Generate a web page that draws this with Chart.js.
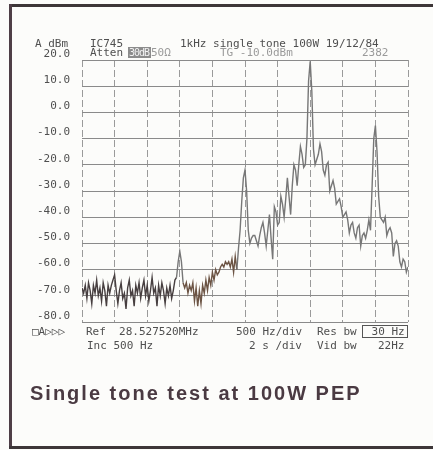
<!DOCTYPE html>
<html>
<head>
<meta charset="utf-8">
<script src="https://cdn.jsdelivr.net/npm/chart.js@4/dist/chart.umd.min.js"></script>
<style>
  body { margin: 0; background: #fcfcfa; }
  #page { position: relative; width: 433px; height: 450px; overflow: hidden; }
  #plot { position: absolute; left: 0; top: 0; }
  .edge { position: absolute; background: #3d3638; }
  .pm { position: absolute; font: 11px "DejaVu Sans Mono", monospace; line-height: 11px;
        color: #4f4f4f; white-space: pre; }
  .dim { color: #9a9a9a; }
  .inv { background: #8c8c8c; color: #f2f2f2; font-size: 10px; letter-spacing: -1px; padding: 0 2px 0 1px; }
  .box { border: 1px solid #555; padding: 0 2px; }
  #caption { position: absolute; left: 30px; top: 382px; font: bold 20px "Liberation Sans", Arial, sans-serif;
             letter-spacing: 2px; color: #4a3a42; white-space: pre; }
</style>
</head>
<body>
<div id="page">
  <canvas id="plot" width="433" height="450"></canvas>

  <div class="edge" style="left:9px;top:4px;width:424px;height:3px"></div>
  <div class="edge" style="left:9px;top:4px;width:3px;height:445px;background:#4e3e46"></div>
  <div class="edge" style="left:9px;top:446px;width:424px;height:3px"></div>

  <span class="pm" style="left:35px;top:38px">A dBm</span>
  <span class="pm" style="left:90px;top:38px">IC745</span>
  <span class="pm" style="left:180px;top:38px">1kHz single tone 100W 19/12/84</span>
  <span class="pm" style="left:90px;top:47px">Atten</span>
  <span class="pm inv" style="left:128px;top:47px">30dB</span>
  <span class="pm dim" style="left:151px;top:47px">50Ω</span>
  <span class="pm dim" style="left:220px;top:47px">TG -10.0dBm</span>
  <span class="pm dim" style="left:362px;top:47px">2382</span>

  <span class="pm" style="left:32px;top:326px">□A▷▷▷</span>
  <span class="pm" style="left:86px;top:326px">Ref  28.527520MHz</span>
  <span class="pm" style="left:87px;top:340px">Inc 500 Hz</span>
  <span class="pm" style="left:236px;top:326px">500 Hz/div</span>
  <span class="pm" style="left:249px;top:340px">2 s /div</span>
  <span class="pm" style="left:317px;top:326px">Res bw</span>
  <span class="pm box" style="left:362px;top:325px"> 30 Hz</span>
  <span class="pm" style="left:317px;top:340px">Vid bw</span>
  <span class="pm" style="left:378px;top:340px">22Hz</span>

  <div id="caption">Single tone test at 100W PEP</div>
</div>

<script>
// sweep settings: 500 Hz/div, 10 divisions
var startHz = 0;
var stepHz = 25;
var spanHz = 5000;
var refLevel = 20;
var bottomLevel = -80;

// trace samples in dBm, one every 25 Hz from the left edge
var levelDbm = [
  -67, -69, -66, -71, -65, -68, -73, -66, -69, -64, -70, -67, -72, -65, -68, -74, -66, -69, -66, -64,
  -62, -68, -73, -68, -65, -71, -69, -75, -67, -64, -70, -68, -74, -66, -69, -65, -71, -67, -64, -70,
  -66, -72, -68, -63, -69, -67, -74, -66, -70, -65, -68, -73, -67, -70, -66, -71, -68, -64, -63, -57,
  -53, -57, -65, -67, -65, -69, -66, -68, -65, -72, -67, -74, -68, -73, -66, -69, -64, -68, -63, -66,
  -61, -64, -60, -62, -61, -59, -58, -59, -57, -58, -57, -59, -56, -61, -55, -60, -52, -45, -34, -25,
  -22, -30, -45, -50, -48, -47, -47, -49, -51, -47, -44, -42, -46, -51, -45, -39, -48, -56, -36, -38,
  -43, -42, -32, -35, -40, -33, -25, -32, -39, -28, -20, -22, -28, -20, -13, -16, -21, -20, -10, 12,
  19.5, 8, -14, -20, -18, -16, -12, -15, -22, -24, -20, -19, -30, -28, -26, -29, -35, -34, -33, -36,
  -40, -39, -38, -41, -46, -43, -42, -46, -48, -44, -43, -51, -47, -46, -48, -45, -41, -45, -28, -10,
  -5, -15, -32, -40, -41, -42, -40, -47, -45, -44, -46, -55, -50, -49, -51, -57, -59, -56, -57, -61,
  -59
];

var points = levelDbm.map(function (v, i) {
  return { x: startHz + i * stepHz, y: v };
});

// pen colours along the sweep
function penColour(ctx) {
  var f = ctx.p0.parsed.x;
  if (f < 1450) return '#473f40';
  if (f >= 1550 && f < 2375) return '#6c5444';
  return '#777777';
}

var ctx = document.getElementById('plot').getContext('2d');
var myChart = new Chart(ctx, {
  type: 'line',
  data: {
    datasets: [{
      data: points,
      borderColor: '#777777',
      borderWidth: 1.4,
      pointRadius: 0,
      tension: 0,
      segment: { borderColor: penColour }
    }]
  },
  options: {
    responsive: false,
    animation: false,
    devicePixelRatio: 1,
    layout: { padding: { left: 0, top: 60, right: 25, bottom: 128 } },
    plugins: { legend: { display: false }, tooltip: { enabled: false } },
    scales: {
      x: {
        type: 'linear',
        min: startHz,
        max: startHz + spanHz,
        ticks: { display: false, stepSize: 500 },
        grid: { color: '#9a9a9a', lineWidth: 1, drawTicks: false },
        border: { display: false, dash: [7, 3] }
      },
      y: {
        min: bottomLevel,
        max: refLevel,
        afterFit: function (scale) { scale.width = 82; },
        ticks: {
          stepSize: 10,
          padding: 12,
          labelOffset: -6,
          color: '#4f4f4f',
          font: { family: 'DejaVu Sans Mono', size: 11 },
          callback: function (v) { return v.toFixed(1); }
        },
        grid: { color: '#8a8a8a', lineWidth: 1, drawTicks: false },
        border: { display: false, dash: [] }
      }
    }
  }
});
</script>
</body>
</html>
